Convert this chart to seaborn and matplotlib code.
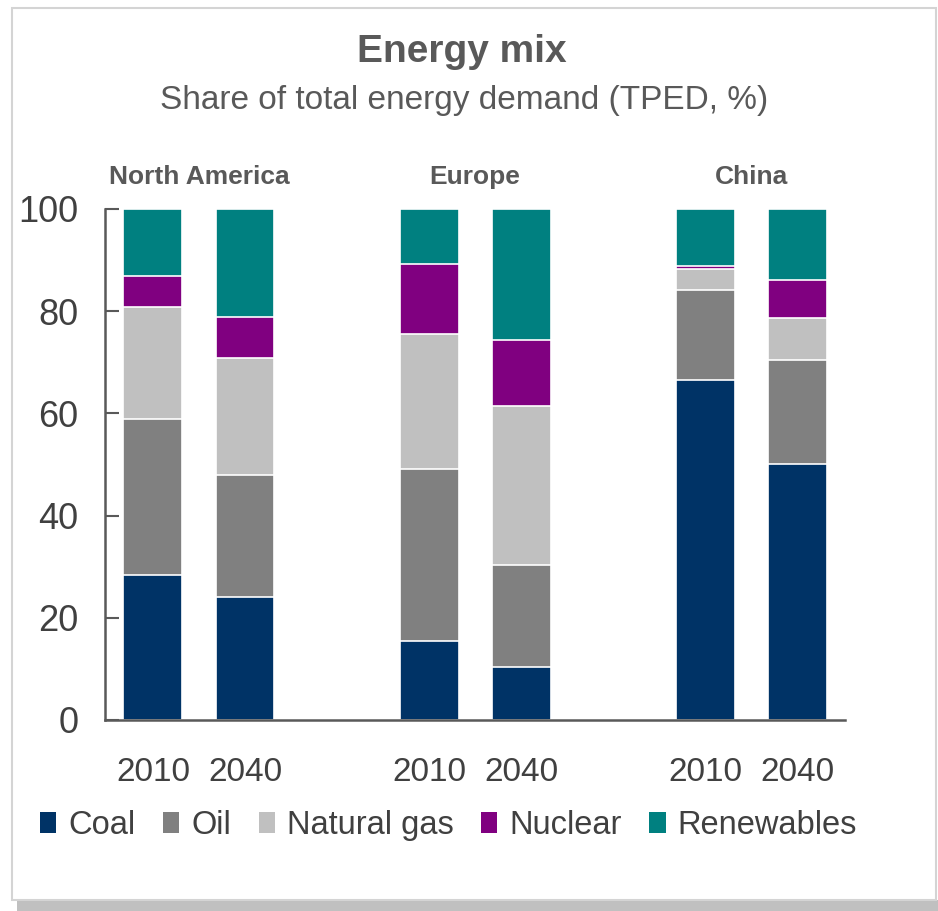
#!/usr/bin/env python3
"""Energy mix: stacked share of total primary energy demand by region."""

import numpy as np
import pandas as pd
import matplotlib

matplotlib.use("Agg")
import matplotlib.pyplot as plt
from matplotlib.patches import Patch, Rectangle
import seaborn as sns

REGIONS = ["North America", "Europe", "China"]
YEARS = ["2010", "2040"]
FUELS = ["Coal", "Oil", "Natural gas", "Nuclear", "Renewables"]
COLORS = ["#003366", "#808080", "#c0c0c0", "#800080", "#008080"]

# shares per bar, order: NA 2010, NA 2040, EU 2010, EU 2040, CN 2010, CN 2040
coal = [28.4, 24.0, 15.5, 10.3, 66.5, 50.0]
oil = [30.5, 23.9, 33.6, 20.1, 17.6, 20.4]
natural_gas = [22.0, 22.9, 26.4, 31.0, 4.2, 8.2]
nuclear = [5.9, 8.1, 13.7, 12.9, 0.6, 7.5]
renewables = [13.2, 21.1, 10.8, 25.7, 11.1, 13.9]

TEXT = "#404040"
TITLE = "#595959"

sns.set_style("white")
plt.rcParams["font.family"] = ["Liberation Sans", "DejaVu Sans"]

positions = [0, 1, 3, 4, 6, 7]
shares = np.array([coal, oil, natural_gas, nuclear, renewables])
tops = shares.cumsum(axis=0)

rows = []
for fuel, top in zip(FUELS, tops):
    for pos, t in zip(positions, top):
        rows.append({"pos": pos, "fuel": fuel, "top": t})
df = pd.DataFrame(rows)

fig = plt.figure(figsize=(9.38, 9.11), dpi=100)

# frame and drop shadow around the panel, kept behind the axes
fig.patches.append(Rectangle((0.018, 0.0), 0.982, 0.012, transform=fig.transFigure,
                             facecolor="#c0c0c0", edgecolor="none", zorder=-2))
fig.patches.append(Rectangle((0.013, 0.012), 0.985, 0.979, transform=fig.transFigure,
                             facecolor="white", edgecolor="#d4d4d4", linewidth=1.5, zorder=-1))

ax = fig.add_axes([0.112, 0.2097, 0.789, 0.5609])
ax.patch.set_alpha(0)

# draw the cumulative tops from the tallest down so they read as stacks
for fuel, color in reversed(list(zip(FUELS, COLORS))):
    sub = df[df["fuel"] == fuel]
    sns.barplot(data=sub, x="pos", y="top", native_scale=True, color=color,
                saturation=1, width=0.64, edgecolor="white", linewidth=1.2, ax=ax)

ax.set_xlim(-0.52, 7.52)
ax.set_ylim(0, 100)
ax.set_xlabel("")
ax.set_ylabel("")
ax.set_xticks(positions)
ax.set_xticklabels(YEARS * 3, fontsize=24, color=TEXT)
ax.set_yticks([0, 20, 40, 60, 80, 100])
ax.set_yticklabels(["0", "20", "40", "60", "80", "100"], fontsize=26, color=TEXT)
ax.tick_params(axis="x", length=0, pad=27)
ax.tick_params(axis="y", direction="in", length=10, width=1.5, color="#595959", pad=19, left=True)
for side in ["top", "right"]:
    ax.spines[side].set_visible(False)
for side in ["left", "bottom"]:
    ax.spines[side].set_color("#595959")
    ax.spines[side].set_linewidth(1.8)

trans = ax.get_xaxis_transform()
for i, region in enumerate(REGIONS):
    ax.text(positions[2 * i] + 0.5, 1.062, region, transform=trans, ha="center",
            va="center", fontsize=19, fontweight="bold", color=TITLE)

fig.text(0.492, 0.943, "Energy mix", ha="center", va="center", fontsize=28,
         fontweight="bold", color=TITLE)
fig.text(0.495, 0.890, "Share of total energy demand (TPED, %)", ha="center",
         va="center", fontsize=24, color=TITLE)

handles = [Patch(facecolor=c, edgecolor="none") for c in COLORS]
leg = fig.legend(handles, FUELS, loc="center", bbox_to_anchor=(0.478, 0.094), ncol=5,
                 frameon=False, fontsize=23.5, handlelength=0.5, handleheight=0.6,
                 handletextpad=0.36, columnspacing=0.85, borderaxespad=0)
for t in leg.get_texts():
    t.set_color(TEXT)

fig.savefig("out.png", dpi=100)
